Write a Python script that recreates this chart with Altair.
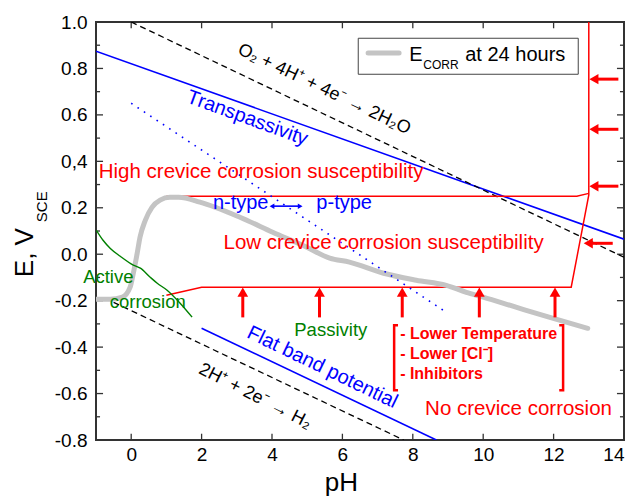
import altair as alt
import pandas as pd

# ---------------- data ----------------
# E_corr at 24 hours (grey curve)
ecorr_ph = [-1.0, -0.6, -0.25, -0.03, 0.06, 0.17, 0.25, 0.40, 0.59, 0.82, 1.10, 1.35,
            1.95, 3.09, 4.02, 4.99, 5.64, 6.2, 7.17, 8.1, 8.95, 9.52, 10.0, 10.93, 11.87, 12.97]
ecorr_e = [-0.194, -0.194, -0.185, -0.142, -0.082, 0.004, 0.073, 0.146, 0.202, 0.233, 0.245, 0.245,
           0.224, 0.159, 0.095, 0.030, -0.017, -0.034, -0.082, -0.112, -0.134, -0.164, -0.185, -0.228, -0.271, -0.319]

# Active corrosion (green)
active_ph = [-0.99, -0.80, -0.60, -0.31, 0.06, 0.26, 0.54, 0.74, 1.02, 1.39, 1.73]
active_e = [0.103, 0.06, 0.026, -0.009, -0.047, -0.06, -0.099, -0.125, -0.155, -0.211, -0.271]

# straight reference lines
o2_ph, o2_e = [0.0, 14.0], [1.0, -0.013]
h2_ph, h2_e = [-0.5, 7.74], [-0.207, -0.8]
trans_ph, trans_e = [-1.0, 14.0], [0.874, 0.065]
flat_ph, flat_e = [2.0, 8.67], [-0.319, -0.8]
np_ph, np_e = [0.0, 8.95], [0.65, -0.25]

# crevice corrosion zone boundaries (red)
upper_ph, upper_e = [1.0, 12.66, 13.0], [0.25, 0.25, 0.262]
lower_ph, lower_e = [13.0, 13.0, 12.5, 2.0, 1.0], [1.0, 0.255, -0.142, -0.142, -0.177]

# red arrows
up_arrow_ph = [3.17, 5.35, 7.7, 9.89, 12.04]
left_arrow_e = [0.754, 0.538, 0.293, 0.047]
left_arrow_tip = [13.0, 13.0, 13.0, 12.84]

# axes
x_labels = [0, 2, 4, 6, 8, 10, 12, 14]
y_labels = [-0.8, -0.6, -0.4, -0.2, 0.0, 0.2, 0.4, 0.6, 0.8, 1.0]
y_minor = [-0.7, -0.5, -0.3, -0.1, 0.1, 0.3, 0.5, 0.7, 0.9]

# ---------------- helpers ----------------
XS = alt.Scale(domain=[-1, 14], nice=False, zero=False)
YS = alt.Scale(domain=[-0.8, 1.0], nice=False, zero=False)
FONT = "Liberation Sans"
RED, BLUE, GREEN = "#ff0000", "#0000ff", "#008000"

y_label_expr = ("(datum.value < -0.001 ? '-' : '') + "
                "(abs(datum.value - 0.4) < 0.001 ? '0,4' : format(abs(datum.value), '.1f'))")
X_AXIS = alt.Axis(values=x_labels, format="d", ticks=False, domain=False, grid=False, title=None,
                  labelFont=FONT, labelFontSize=19, labelColor="black", labelPadding=5)
Y_AXIS = alt.Axis(values=y_labels, labelExpr=y_label_expr, ticks=False, domain=False, grid=False,
                  title=None, labelFont=FONT, labelFontSize=19, labelColor="black", labelPadding=9)


def xe(f="x"):
    return alt.X(f"{f}:Q", scale=XS, axis=X_AXIS)


def ye(f="y"):
    return alt.Y(f"{f}:Q", scale=YS, axis=Y_AXIS)


def line(ph, e, color, width, dash=None, interp="linear", cap="butt"):
    df = pd.DataFrame({"x": ph, "y": e, "o": list(range(len(ph)))})
    kw = dict(color=color, strokeWidth=width, clip=True, interpolate=interp, strokeCap=cap)
    if dash:
        kw["strokeDash"] = dash
    return alt.Chart(df).mark_line(**kw).encode(x=xe(), y=ye(), order="o:Q")


def text(t, x, y, size, color="black", angle=0, align="center", baseline="middle", weight="normal"):
    df = pd.DataFrame({"x": [x], "y": [y], "t": [t]})
    return alt.Chart(df).mark_text(
        font=FONT, fontSize=size, color=color, angle=angle, align=align,
        baseline=baseline, fontWeight=weight
    ).encode(x=xe(), y=ye(), text="t:N")


def segs(rows, color, width):
    df = pd.DataFrame(rows, columns=["x", "x2", "y", "y2"])
    return alt.Chart(df).mark_rule(color=color, strokeWidth=width).encode(
        x=xe(), x2="x2:Q", y=ye(), y2="y2:Q")


# ---------------- inward ticks ----------------
tick_rows = []
for v in y_labels:
    tick_rows.append([-1.0, -1.0 + 0.2, v, v])
    tick_rows.append([14.0 - 0.2, 14.0, v, v])
for v in y_minor:
    tick_rows.append([-1.0, -1.0 + 0.115, v, v])
    tick_rows.append([14.0 - 0.115, 14.0, v, v])
for v in x_labels:
    tick_rows.append([v, v, -0.8, -0.8 + 0.027])
    tick_rows.append([v, v, 1.0 - 0.027, 1.0])

layers = [segs(tick_rows, "#333333", 1.3)]

# ---------------- lines ----------------
layers.append(line(trans_ph, trans_e, BLUE, 1.6))
layers.append(line(flat_ph, flat_e, BLUE, 1.6))
layers.append(line(o2_ph, o2_e, "black", 1.3, dash=[6, 4]))
layers.append(line(h2_ph, h2_e, "black", 1.3, dash=[6, 4]))
layers.append(line(upper_ph, upper_e, RED, 1.5))
layers.append(line(lower_ph, lower_e, RED, 1.5))
layers.append(line(ecorr_ph, ecorr_e, "#c4c4c4", 5, interp="monotone", cap="round"))
layers.append(line(active_ph, active_e, GREEN, 1.4, interp="monotone"))
layers.append(line(np_ph, np_e, BLUE, 1.6, dash=[1.6, 6]))

# ---------------- arrows ----------------
up_rows = [[p, p, -0.272, -0.172] for p in up_arrow_ph]
layers.append(segs(up_rows, RED, 3))
up_heads = pd.DataFrame({"x": up_arrow_ph, "y": [-0.163] * len(up_arrow_ph)})
layers.append(alt.Chart(up_heads).mark_point(shape="triangle-up", filled=True, size=115,
                                             color=RED, opacity=1).encode(x=xe(), y=ye()))

left_rows = [[t + 0.2, t + 0.84, e, e] for t, e in zip(left_arrow_tip, left_arrow_e)]
layers.append(segs(left_rows, RED, 3))
left_heads = pd.DataFrame({"x": [t + 0.145 for t in left_arrow_tip], "y": left_arrow_e})
layers.append(alt.Chart(left_heads).mark_point(shape="triangle-left", filled=True, size=110,
                                               color=RED, opacity=1).encode(x=xe(), y=ye()))

# n-type / p-type double arrow
layers.append(segs([[4.0, 4.8, 0.207, 0.207]], BLUE, 1.6))
dbl = pd.DataFrame({"x": [4.0, 4.8], "s": ["triangle-left", "triangle-right"], "y": [0.207, 0.207]})
layers.append(alt.Chart(dbl).mark_point(filled=True, size=30, color=BLUE, opacity=1).encode(
    x=xe(), y=ye(), shape=alt.Shape("s:N", scale=None)))

# brackets
bracket = pd.DataFrame({
    "x": [7.58, 7.47, 7.47, 7.58, 12.16, 12.27, 12.27, 12.16],
    "y": [-0.306, -0.306, -0.586, -0.586, -0.306, -0.306, -0.586, -0.586],
    "g": ["l"] * 4 + ["r"] * 4,
    "o": [0, 1, 2, 3, 0, 1, 2, 3],
})
layers.append(alt.Chart(bracket).mark_line(color=RED, strokeWidth=2.5).encode(
    x=xe(), y=ye(), detail="g:N", order="o:Q"))

# ---------------- texts ----------------
layers += [
    text("O₂ + 4H⁺ + 4e⁻ → 2H₂O", 5.48, 0.71, 18, angle=25.5),
    text("2H⁺ + 2e⁻ → H₂", 3.52, -0.612, 18, angle=27),
    text("Transpassivity", 3.30, 0.586, 20, color=BLUE, angle=20),
    text("Flat band potential", 5.43, -0.487, 20, color=BLUE, angle=25.8),
    text("High crevice corrosion susceptibility", 3.69, 0.353, 20.5, color=RED),
    text("Low crevice corrosion susceptibility", 7.17, 0.047, 20.5, color=RED),
    text("No crevice corrosion", 8.35, -0.667, 20.5, color=RED, align="left"),
    text("n-type", 3.11, 0.22, 20, color=BLUE),
    text("p-type", 6.05, 0.22, 20, color=BLUE),
    text("Active", -0.65, -0.099, 18.5, color=GREEN),
    text("corrosion", 0.47, -0.207, 18.5, color=GREEN),
    text("Passivity", 5.67, -0.327, 18.5, color=GREEN),
    text("- Lower Temperature", 7.64, -0.345, 16, color=RED, align="left", weight="bold"),
    text("- Lower [Cl⁻]", 7.64, -0.431, 16, color=RED, align="left", weight="bold"),
    text("- Inhibitors", 7.64, -0.517, 16, color=RED, align="left", weight="bold"),
    # axis titles
    text("pH", 5.97, -1.019, 26, baseline="alphabetic"),
    text("E, V", -2.78, -0.099, 26, angle=270, align="left", baseline="alphabetic"),
    text("SCE", -2.39, 0.138, 15, angle=270, align="left", baseline="alphabetic"),
]

# ---------------- legend ----------------
legend_box = pd.DataFrame({"x": [6.45], "x2": [12.70], "y": [0.930], "y2": [0.775]})
layers.append(alt.Chart(legend_box).mark_rect(fill="white", stroke="#444444", strokeWidth=1).encode(
    x=xe(), x2="x2:Q", y=ye(), y2="y2:Q"))
layers.append(line([6.73, 7.61], [0.866, 0.866], "#c4c4c4", 5, cap="round"))
layers += [
    text("E", 7.90, 0.831, 20, align="left", baseline="alphabetic"),
    text("CORR", 8.30, 0.797, 12, align="left", baseline="alphabetic"),
    text("at 24 hours", 9.49, 0.831, 20, align="left", baseline="alphabetic"),
]

chart = alt.layer(*layers).properties(
    width=528, height=418,
    autosize=alt.AutoSizeParams(type="none"),
    padding={"left": 88, "top": 14, "right": 5, "bottom": 58},
).configure_view(stroke="#333333", strokeWidth=2)

chart.save("out.html", embed_options={"renderer": "svg", "actions": False})
